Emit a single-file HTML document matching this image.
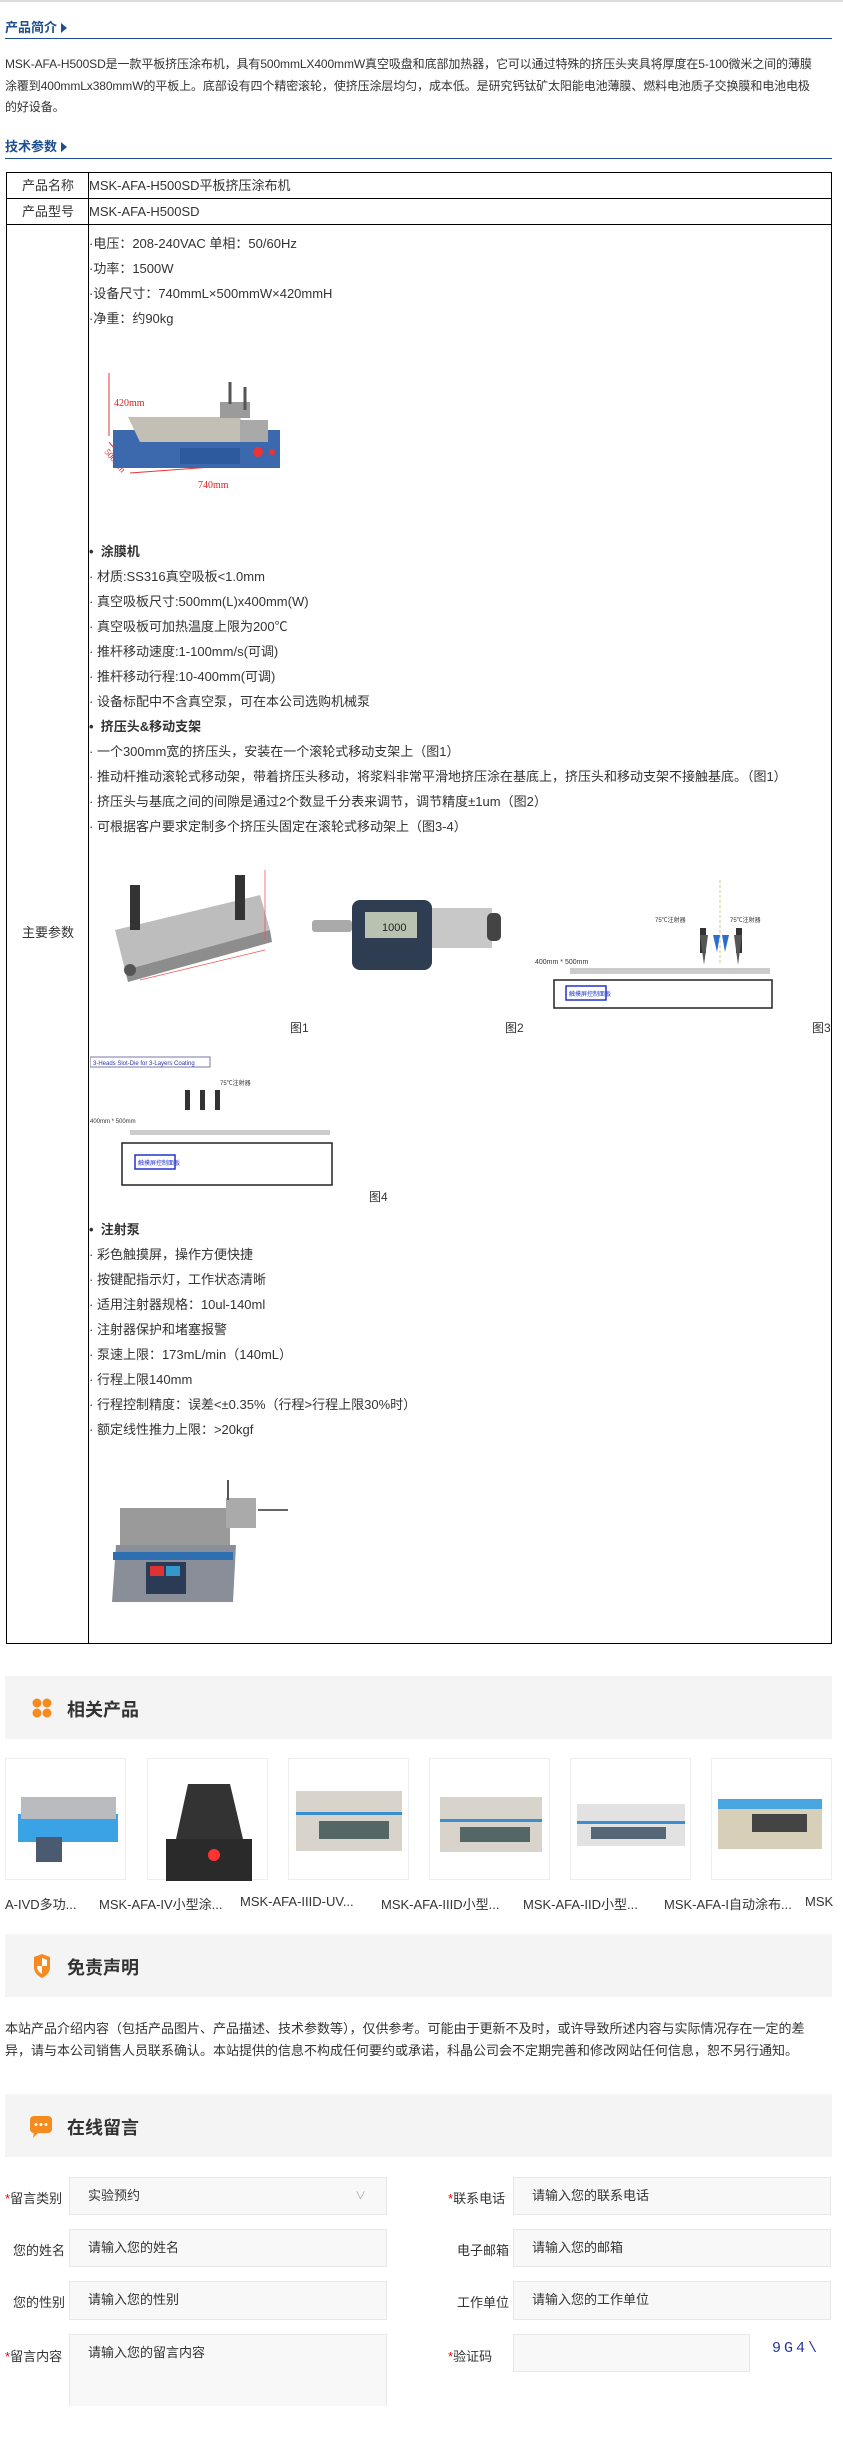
<!DOCTYPE html>
<html><head><meta charset="utf-8">
<style>
*{margin:0;padding:0;box-sizing:border-box}
body{width:843px;height:2460px;position:relative;background:#fff;font-family:"Liberation Sans","Noto Sans CJK SC",sans-serif;color:#333;font-size:12px;overflow:hidden}
.a{position:absolute;white-space:nowrap}
.h{font-weight:bold;color:#1d4f91;font-size:13px}
.h:after{content:"";display:inline-block;border-left:6px solid #1d4f91;border-top:5px solid transparent;border-bottom:5px solid transparent;margin-left:4px;vertical-align:-1px}
.bl{position:absolute;left:5px;width:827px;height:2px;background:#1d4f91}
.t{font-size:12px;line-height:14px}
.band{position:absolute;left:5px;width:827px;height:63px;background:#f4f4f4}
.bt{position:absolute;left:62px;top:20px;font-size:18px;font-weight:bold;color:#333}
.lab{position:absolute;font-size:13px;color:#333}
.lab i{color:#e00;font-style:normal}
.inp{position:absolute;background:#f8f8f8;border:1px solid #e8e8e8;font-size:13px;color:#333;padding-left:18px;line-height:36px}
.card{position:absolute;top:1758px;width:121px;height:122px;border:1px solid #eee;background:#fff}
.cap{position:absolute;top:1894px;font-size:13px}
</style></head><body>
<div style="position:absolute;left:0;top:0;width:843px;height:2px;background:#ddd"></div>
<div class="a h" style="left:5px;top:17px">产品简介</div>
<div class="bl" style="top:38px;height:1px"></div>
<div class="a" style="left:5px;top:54px;font-size:12px;line-height:21.5px;letter-spacing:-0.1px">MSK-AFA-H500SD是一款平板挤压涂布机，具有500mmLX400mmW真空吸盘和底部加热器，它可以通过特殊的挤压头夹具将厚度在5-100微米之间的薄膜<br>涂覆到400mmLx380mmW的平板上。底部设有四个精密滚轮，使挤压涂层均匀，成本低。是研究钙钛矿太阳能电池薄膜、燃料电池质子交换膜和电池电极<br>的好设备。</div>
<div class="a h" style="left:5px;top:136px">技术参数</div>
<div class="bl" style="top:158px;height:1px"></div>

<!-- table -->
<div style="position:absolute;left:6px;top:172px;width:826px;height:1472px;border:1px solid #000"></div>
<div style="position:absolute;left:88px;top:172px;width:1px;height:1472px;background:#000"></div>
<div style="position:absolute;left:6px;top:198px;width:826px;height:1px;background:#000"></div>
<div style="position:absolute;left:6px;top:224px;width:826px;height:1px;background:#000"></div>
<div class="a t" style="left:22px;top:179px;font-size:13px">产品名称</div>
<div class="a t" style="left:89px;top:179px;font-size:13px">MSK-AFA-H500SD平板挤压涂布机</div>
<div class="a t" style="left:22px;top:205px;font-size:13px">产品型号</div>
<div class="a t" style="left:89px;top:205px;font-size:13px">MSK-AFA-H500SD</div>
<div class="a t" style="left:22px;top:926px;font-size:13px">主要参数</div>

<div class="a t" style="left:89px;top:231px;font-size:13px;line-height:25px">·电压：208-240VAC 单相：50/60Hz<br>·功率：1500W<br>·设备尺寸：740mmL×500mmW×420mmH<br>·净重：约90kg</div>

<!-- machine image -->
<svg class="a" style="left:100px;top:370px" width="190" height="120">
<line x1="9" y1="3" x2="9" y2="66" stroke="#e33"/>
<text x="14" y="36" font-size="10" fill="#d22" font-family="Liberation Serif">420mm</text>
<line x1="9" y1="72" x2="30" y2="97" stroke="#e33"/>
<text x="4" y="82" font-size="9" fill="#d22" transform="rotate(50 4 82)" font-family="Liberation Serif">500mm</text>
<line x1="30" y1="103" x2="180" y2="92" stroke="#e33"/>
<text x="98" y="118" font-size="10" fill="#d22" font-family="Liberation Serif">740mm</text>
<rect x="13" y="60" width="167" height="38" fill="#3c68ad"/>
<polygon points="28,47 140,47 148,72 40,72" fill="#c4bfb5"/>
<rect x="140" y="50" width="28" height="22" fill="#a9a9a9"/>
<rect x="120" y="32" width="30" height="16" fill="#9b9b9b"/>
<line x1="130" y1="12" x2="130" y2="34" stroke="#555" stroke-width="3"/>
<line x1="145" y1="17" x2="145" y2="40" stroke="#555" stroke-width="3"/>
<rect x="80" y="78" width="60" height="16" fill="#2d5a9e"/>
<circle cx="158" cy="82" r="5" fill="#e33"/>
<circle cx="172" cy="82" r="3" fill="#e33"/>
</svg>

<div class="a t" style="left:89px;top:539px;font-size:13px;line-height:25px">
<b>•&nbsp;&nbsp;涂膜机</b><br>·&nbsp;材质:SS316真空吸板&lt;1.0mm<br>·&nbsp;真空吸板尺寸:500mm(L)x400mm(W)<br>·&nbsp;真空吸板可加热温度上限为200℃<br>·&nbsp;推杆移动速度:1-100mm/s(可调)<br>·&nbsp;推杆移动行程:10-400mm(可调)<br>·&nbsp;设备标配中不含真空泵，可在本公司选购机械泵<br><b>•&nbsp;&nbsp;挤压头&amp;移动支架</b><br>·&nbsp;一个300mm宽的挤压头，安装在一个滚轮式移动支架上（图1）<br>·&nbsp;推动杆推动滚轮式移动架，带着挤压头移动，将浆料非常平滑地挤压涂在基底上，挤压头和移动支架不接触基底。（图1）<br>·&nbsp;挤压头与基底之间的间隙是通过2个数显千分表来调节，调节精度±1um（图2）<br>·&nbsp;可根据客户要求定制多个挤压头固定在滚轮式移动架上（图3-4）</div>

<!-- fig1 -->
<svg class="a" style="left:100px;top:870px" width="180" height="120">
<polygon points="15,60 160,25 170,60 25,100" fill="#bdbdbd"/>
<polygon points="25,100 170,60 172,72 28,112" fill="#8d8d8d"/>
<rect x="30" y="15" width="10" height="45" fill="#333"/>
<rect x="135" y="5" width="10" height="45" fill="#333"/>
<circle cx="30" cy="100" r="6" fill="#555"/>
<line x1="40" y1="110" x2="165" y2="80" stroke="#e55" stroke-width="0.8"/>
<line x1="165" y1="0" x2="165" y2="70" stroke="#e55" stroke-width="0.8"/>
</svg>
<!-- fig2 -->
<svg class="a" style="left:312px;top:898px" width="195" height="80">
<rect x="0" y="22" width="40" height="12" rx="3" fill="#aaa"/>
<rect x="40" y="2" width="80" height="70" rx="8" fill="#2f3d52"/>
<rect x="53" y="14" width="52" height="26" fill="#b9c2b0"/>
<text x="70" y="33" font-size="11" fill="#222">1000</text>
<rect x="120" y="10" width="60" height="40" fill="#c8c8c8"/>
<rect x="175" y="15" width="14" height="28" rx="5" fill="#444"/>
</svg>
<!-- fig3 -->
<svg class="a" style="left:530px;top:880px" width="250" height="130">
<line x1="190" y1="0" x2="190" y2="85" stroke="#cc8" stroke-dasharray="3,2"/>
<text x="125" y="42" font-size="6" fill="#333">75℃注射器</text>
<text x="200" y="42" font-size="6" fill="#333">75℃注射器</text>
<rect x="170" y="48" width="6" height="25" fill="#333"/><rect x="206" y="48" width="6" height="25" fill="#333"/>
<polygon points="170,55 178,55 174,85" fill="#555"/><polygon points="204,55 212,55 208,85" fill="#555"/>
<polygon points="183,55 190,55 187,72" fill="#2a6fd0"/><polygon points="192,55 199,55 195,72" fill="#2a6fd0"/>
<text x="5" y="84" font-size="7" fill="#333">400mm * 500mm</text>
<rect x="40" y="88" width="200" height="6" fill="#ccc"/>
<rect x="24" y="100" width="218" height="28" fill="#fff" stroke="#222" stroke-width="1.5"/>
<rect x="36" y="106" width="40" height="14" fill="#fff" stroke="#23c" stroke-width="1.5"/>
<text x="39" y="116" font-size="6" fill="#23c">触摸屏控制面板</text>
</svg>
<div class="a t" style="left:290px;top:1021px">图1</div>
<div class="a t" style="left:505px;top:1021px">图2</div>
<div class="a t" style="left:812px;top:1021px">图3</div>
<!-- fig4 -->
<svg class="a" style="left:90px;top:1055px" width="245" height="132">
<rect x="0" y="2" width="120" height="10" fill="#fff" stroke="#77a"/>
<text x="3" y="10" font-size="6" fill="#33a">3-Heads Slot-Die for 3-Layers Coating</text>
<text x="130" y="30" font-size="6" fill="#333">75℃注射器</text>
<rect x="95" y="35" width="5" height="20" fill="#333"/><rect x="110" y="35" width="5" height="20" fill="#333"/><rect x="125" y="35" width="5" height="20" fill="#333"/>
<text x="0" y="68" font-size="6" fill="#333">400mm * 500mm</text>
<rect x="40" y="75" width="200" height="5" fill="#ccc"/>
<rect x="32" y="88" width="210" height="42" fill="#fff" stroke="#222" stroke-width="1.5"/>
<rect x="45" y="100" width="40" height="14" fill="#fff" stroke="#23c" stroke-width="1.5"/>
<text x="48" y="110" font-size="6" fill="#23c">触摸屏控制面板</text>
</svg>
<div class="a t" style="left:369px;top:1190px">图4</div>

<div class="a t" style="left:89px;top:1217px;font-size:13px;line-height:25px">
<b>•&nbsp;&nbsp;注射泵</b><br>·&nbsp;彩色触摸屏，操作方便快捷<br>·&nbsp;按键配指示灯，工作状态清晰<br>·&nbsp;适用注射器规格：10ul-140ml<br>·&nbsp;注射器保护和堵塞报警<br>·&nbsp;泵速上限：173mL/min（140mL）<br>·&nbsp;行程上限140mm<br>·&nbsp;行程控制精度：误差&lt;±0.35%（行程&gt;行程上限30%时）<br>·&nbsp;额定线性推力上限：&gt;20kgf</div>

<!-- pump -->
<svg class="a" style="left:108px;top:1480px" width="185" height="125">
<rect x="12" y="28" width="110" height="40" fill="#9a9a9a"/>
<rect x="118" y="18" width="30" height="30" fill="#aaa"/>
<line x1="120" y1="0" x2="120" y2="20" stroke="#555" stroke-width="2"/>
<line x1="150" y1="30" x2="180" y2="30" stroke="#666" stroke-width="2"/>
<polygon points="8,65 128,65 125,122 4,122" fill="#8a8e98"/>
<rect x="5" y="72" width="120" height="8" fill="#2d6fb0"/>
<rect x="38" y="82" width="40" height="32" fill="#2b3b55"/>
<rect x="42" y="86" width="14" height="10" fill="#d33"/><rect x="58" y="86" width="14" height="10" fill="#39c"/>
</svg>

<!-- related -->
<div class="band" style="top:1676px">
<svg style="position:absolute;left:27px;top:22px" width="20" height="20"><circle cx="5" cy="5" r="4.5" fill="#f58a1f"/><circle cx="15" cy="5" r="4.5" fill="#f58a1f"/><circle cx="5" cy="15" r="4.5" fill="#f58a1f"/><circle cx="15" cy="15" r="4.5" fill="#f58a1f"/></svg>
<div class="bt">相关产品</div></div>

<div class="card" style="left:5px"><svg width="121" height="122"><rect x="12" y="55" width="100" height="28" fill="#3aa3e6"/><rect x="15" y="38" width="95" height="22" fill="#b9bbbe"/><rect x="30" y="78" width="26" height="25" fill="#4a5a70"/></svg></div>
<div class="card" style="left:147px"><svg width="121" height="122"><polygon points="40,25 82,25 95,80 28,80" fill="#333"/><rect x="18" y="80" width="86" height="45" fill="#2a2a2a"/><circle cx="66" cy="96" r="6" fill="#f33"/></svg></div>
<div class="card" style="left:288px"><svg width="121" height="122"><rect x="7" y="32" width="106" height="60" fill="#d8d4cc"/><rect x="7" y="53" width="106" height="3" fill="#3a8fd0"/><rect x="30" y="62" width="70" height="18" fill="#566"/></svg></div>
<div class="card" style="left:429px"><svg width="121" height="122"><rect x="10" y="38" width="102" height="55" fill="#d8d4cc"/><rect x="10" y="60" width="102" height="3" fill="#3a8fd0"/><rect x="30" y="68" width="70" height="15" fill="#566"/></svg></div>
<div class="card" style="left:570px"><svg width="121" height="122"><rect x="6" y="45" width="108" height="42" fill="#e2e2e2"/><rect x="6" y="62" width="108" height="3" fill="#3a8fd0"/><rect x="20" y="68" width="75" height="12" fill="#567"/></svg></div>
<div class="card" style="left:711px"><svg width="121" height="122"><rect x="6" y="45" width="104" height="45" fill="#d8cfb8"/><rect x="6" y="40" width="104" height="10" fill="#4aa6e0"/><rect x="40" y="55" width="55" height="18" fill="#444"/></svg></div>
<div class="cap" style="left:5px">A-IVD多功...</div>
<div class="cap" style="left:99px">MSK-AFA-IV小型涂...</div>
<div class="cap" style="left:240px">MSK-AFA-IIID-UV...</div>
<div class="cap" style="left:381px">MSK-AFA-IIID小型...</div>
<div class="cap" style="left:523px">MSK-AFA-IID小型...</div>
<div class="cap" style="left:664px">MSK-AFA-I自动涂布...</div>
<div class="cap" style="left:805px">MSK</div>

<div class="band" style="top:1934px">
<svg style="position:absolute;left:27px;top:20px" width="20" height="24"><path d="M2 3 L10 0 L18 3 L18 13 Q18 20 10 24 Q2 20 2 13 Z" fill="#f58a1f"/><path d="M10 4 L10 12 L15 12 L15 6 Z" fill="#fff"/><path d="M5 12 L10 12 L10 20 Q5 17 5 13Z" fill="#fff"/></svg>
<div class="bt">免责声明</div></div>
<div class="a" style="left:5px;top:2018px;font-size:13px;line-height:22px">本站产品介绍内容（包括产品图片、产品描述、技术参数等），仅供参考。可能由于更新不及时，或许导致所述内容与实际情况存在一定的差<br>异，请与本公司销售人员联系确认。本站提供的信息不构成任何要约或承诺，科晶公司会不定期完善和修改网站任何信息，恕不另行通知。</div>

<div class="band" style="top:2094px">
<svg style="position:absolute;left:25px;top:22px" width="22" height="22"><rect x="0" y="0" width="22" height="17" rx="4" fill="#f58a1f"/><polygon points="4,16 9,16 3,22" fill="#f58a1f"/><circle cx="6" cy="8.5" r="1.5" fill="#fff"/><circle cx="11" cy="8.5" r="1.5" fill="#fff"/><circle cx="16" cy="8.5" r="1.5" fill="#fff"/></svg>
<div class="bt">在线留言</div></div>

<div class="lab" style="left:5px;top:2188px"><i>*</i>留言类别</div>
<div class="inp" style="left:69px;top:2177px;width:318px;height:38px">实验预约<span style="position:absolute;right:20px;top:0;color:#aaa;font-size:11px">∨</span></div>
<div class="lab" style="left:448px;top:2188px"><i>*</i>联系电话</div>
<div class="inp" style="left:513px;top:2177px;width:318px;height:38px">请输入您的联系电话</div>

<div class="lab" style="left:13px;top:2240px">您的姓名</div>
<div class="inp" style="left:69px;top:2229px;width:318px;height:38px">请输入您的姓名</div>
<div class="lab" style="left:457px;top:2240px">电子邮箱</div>
<div class="inp" style="left:513px;top:2229px;width:318px;height:38px">请输入您的邮箱</div>

<div class="lab" style="left:13px;top:2292px">您的性别</div>
<div class="inp" style="left:69px;top:2281px;width:318px;height:39px">请输入您的性别</div>
<div class="lab" style="left:457px;top:2292px">工作单位</div>
<div class="inp" style="left:513px;top:2281px;width:318px;height:39px">请输入您的工作单位</div>

<div class="lab" style="left:5px;top:2346px"><i>*</i>留言内容</div>
<div class="inp" style="left:69px;top:2334px;width:318px;height:72px;border-bottom:none">请输入您的留言内容</div>
<div class="lab" style="left:448px;top:2346px"><i>*</i>验证码</div>
<div class="inp" style="left:513px;top:2334px;width:237px;height:38px"></div>
<div class="a" style="left:772px;top:2340px;font-size:15px;color:#23379a;letter-spacing:3px;font-family:'Liberation Mono',monospace">9G4\</div>
</body></html>
